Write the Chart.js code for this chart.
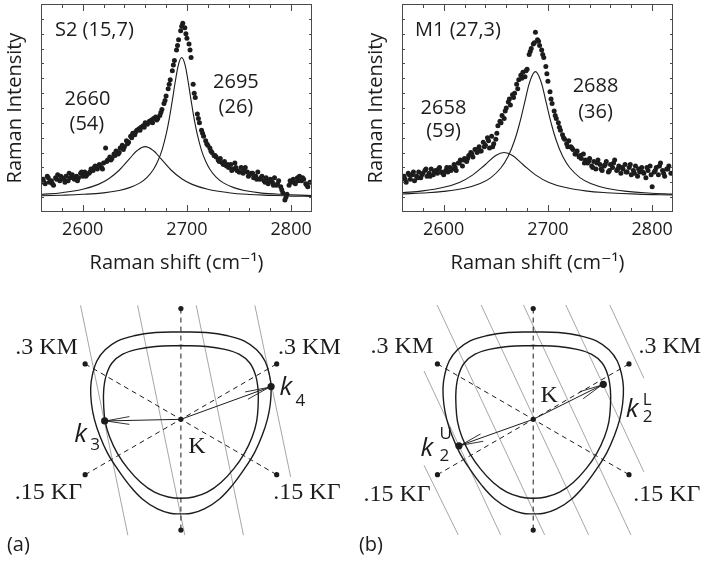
<!DOCTYPE html>
<html>
<head>
<meta charset="utf-8">
<title>Raman G' band of two tubes and the trigonal warping picture</title>
<script src="https://cdn.jsdelivr.net/npm/chart.js@4.4.1/dist/chart.umd.min.js"></script>
<style>
  html, body { margin: 0; padding: 0; background: #fff; }
  #page { position: relative; width: 706px; height: 570px; overflow: hidden; }
  canvas { position: absolute; }
</style>
</head>
<body>
<div id="page">
  <canvas id="spectrumS2" width="350" height="280" style="left:0;top:0"></canvas>
  <canvas id="spectrumM1" width="345" height="280" style="left:361px;top:0"></canvas>
  <canvas id="zoneA" width="353" height="280" style="left:0;top:290px"></canvas>
  <canvas id="zoneB" width="353" height="280" style="left:353px;top:290px"></canvas>
</div>
<script>
// ---- spectra: measured points, two interleaved shift grids shared by both tubes ----
const shiftX = [
  2562,2564,2566,2568,2570,2572,2574,2576,2578,2580,2582,2584,2586,2588,2590,2592,
  2594,2596,2598,2600,2602,2604,2606,2608,2610,2612,2614,2616,2618,2620,2622,2624,
  2626,2628,2630,2632,2634,2636,2638,2640,2642,2644,2646,2648,2650,2652,2654,2656,
  2658,2660,2662,2664,2666,2668,2670,2672,2674,2676,2678,2680,2682,2684,2686,2688,
  2690,2692,2694,2696,2698,2700,2702,2704,2706,2708,2710,2712,2714,2716,2718,2720,
  2722,2724,2726,2728,2730,2732,2734,2736,2738,2740,2742,2744,2746,2748,2750,2752,
  2754,2756,2758,2760,2762,2764,2766,2768,2770,2772,2774,2776,2778,2780,2782,2784,
  2786,2788,2790,2792,2794,2796,2798,2800,2802,2804,2806,2808,2810,2812,2814,2816,
  2818
];
const shiftXOdd = [
  2563,2567,2571,2575,2579,2583,2587,2591,2595,2599,2603,2607,2611,2615,2619,2623,
  2627,2631,2635,2639,2643,2647,2651,2655,2659,2663,2667,2671,2675,2679,2683,2687,
  2691,2695,2699,2703,2707,2711,2715,2719,2723,2727,2731,2735,2739,2743,2747,2751,
  2755,2759,2763,2767,2771,2775,2779,2783,2787,2791,2795,2799,2803,2807,2811,2815
];
const s2Counts = [
  2.2,1.9,2.4,2.0,2.1,1.8,2.3,2.5,2.1,2.3,2.2,2.4,2.1,2.3,2.5,2.2,
  2.4,2.3,2.6,2.4,2.7,2.5,2.6,2.9,2.8,3.1,2.9,3.2,3.0,3.3,4.3,3.5,
  3.7,3.6,3.9,4.1,3.9,4.3,4.5,4.4,4.8,4.7,5.1,5.3,5.2,5.5,5.6,5.7,
  5.8,6.0,5.9,6.1,6.2,6.3,6.4,6.3,6.5,6.9,7.3,7.8,8.3,8.9,9.5,10.2,
  10.9,11.6,12.2,12.7,12.4,11.7,11.3,10.4,8.6,7.7,6.6,6.0,5.5,5.1,4.8,4.5,
  4.3,4.0,3.8,3.7,3.5,3.6,3.3,3.4,3.1,3.0,3.2,2.9,3.3,2.8,2.7,3.0,
  2.6,3.0,2.7,2.5,2.6,2.3,2.4,2.7,2.2,2.4,2.1,2.3,1.9,2.2,2.0,2.3,
  1.8,2.1,1.7,1.3,0.8,1.2,1.8,2.0,2.2,1.9,2.3,2.4,2.1,2.2,1.9,1.7,
  2.0
];
const s2CountsOdd = [
  2.0,2.3,1.9,2.2,2.4,2.0,2.6,2.3,2.1,2.7,2.4,2.7,3.0,3.1,2.9,3.4,
  3.5,3.8,4.0,4.2,4.6,5.0,5.4,5.5,5.7,6.0,6.0,6.2,6.7,7.5,8.6,9.9,
  11.2,12.5,12.0,10.9,8.0,6.3,5.3,4.6,4.1,3.8,3.4,3.2,3.2,2.8,3.0,2.7,
  2.8,2.4,2.6,2.2,2.3,2.0,2.1,1.8,1.9,1.5,1.0,2.1,2.0,2.1,2.3,1.8
];
const m1Counts = [
  2.4,2.0,2.6,2.2,2.5,2.1,2.4,2.7,2.3,2.6,2.8,2.4,2.6,2.9,2.5,2.8,
  2.6,3.0,2.7,2.5,2.8,2.7,3.0,2.9,3.2,2.8,3.3,3.5,3.1,3.6,3.4,3.8,
  4.0,3.7,4.2,4.0,4.4,4.1,4.7,4.5,5.0,4.3,5.1,4.6,4.9,5.8,6.1,6.5,
  6.3,7.0,7.4,7.2,7.9,8.0,8.6,8.9,9.2,9.4,9.1,9.6,10.6,11.0,11.3,12.1,
  11.6,11.2,10.9,10.4,9.8,8.8,8.1,7.3,6.8,6.3,6.0,5.5,5.2,4.9,4.6,4.8,
  4.4,4.2,3.9,4.1,3.7,3.6,3.9,3.5,3.3,3.6,3.1,3.4,2.9,3.5,3.2,2.8,
  3.1,3.4,2.7,3.2,3.0,3.5,2.8,3.1,2.6,2.9,3.2,2.7,3.0,2.5,2.8,3.1,
  2.4,2.7,3.0,2.6,2.3,2.8,3.1,1.7,2.7,3.0,2.5,3.3,2.8,2.4,2.9,3.1,
  2.6
];
const m1CountsOdd = [
  2.2,2.5,2.7,2.3,2.5,2.9,2.4,2.7,2.9,2.6,3.0,2.8,3.0,3.3,3.5,3.6,
  3.9,4.2,4.1,4.4,4.8,4.4,5.3,6.0,6.8,7.6,7.7,8.3,9.0,9.5,10.8,11.4,
  11.5,10.6,9.3,7.6,6.5,5.7,5.0,4.4,4.3,3.9,3.8,3.3,3.4,3.0,3.3,2.9,
  3.2,2.8,3.3,2.9,3.0,2.7,3.2,2.6,2.9,2.7,3.0,2.5,2.8,3.1,2.6,2.9
];

// fitted Lorentzian components
const s2NarrowX = [2560,2580,2600,2620,2635,2645,2655,2662,2668,2672,2676,2680,2683,2686,2689,2692,2695,2698,2701,2704,2707,2710,2714,2718,2722,2728,2735,2745,2755,2770,2790,2820];
const s2NarrowY = [1.09,1.13,1.19,1.29,1.45,1.64,1.96,2.35,2.88,3.41,4.15,5.21,6.25,7.51,8.85,9.96,10.4,9.96,8.85,7.51,6.25,5.21,4.15,3.41,2.88,2.35,1.96,1.64,1.45,1.29,1.19,1.11];
const s2BroadX = [2560,2580,2600,2615,2625,2635,2645,2652,2660,2668,2675,2685,2695,2705,2720,2740,2760,2780,2800,2820];
const s2BroadY = [1.18,1.30,1.53,1.86,2.24,2.81,3.59,4.12,4.40,4.12,3.59,2.81,2.24,1.86,1.53,1.30,1.18,1.12,1.07,1.05];
const m1NarrowX = [2560,2580,2600,2620,2635,2645,2655,2662,2668,2673,2678,2683,2688,2693,2698,2703,2708,2714,2721,2731,2741,2756,2776,2796,2820];
const m1NarrowY = [1.21,1.28,1.39,1.60,1.92,2.30,2.98,3.77,4.81,6.01,7.47,8.85,9.45,8.85,7.47,6.01,4.81,3.77,2.98,2.30,1.92,1.60,1.39,1.28,1.20];
const m1BroadX = [2560,2580,2600,2615,2628,2640,2650,2658,2666,2676,2688,2701,2716,2736,2756,2786,2820];
const m1BroadY = [1.30,1.42,1.66,1.99,2.50,3.20,3.80,4.00,3.80,3.20,2.50,1.99,1.66,1.42,1.30,1.20,1.15];

// ---- zone pictures: units are screen pixels, origin at K, y up ----
const outerContour = [[0,90],[26,89.3],[48,86],[65,80.5],[77.5,71.5],[86,60],[90.5,46],[92.3,32.7],[91.5,16],[88.5,0],[83,-17],[75.5,-34],[65,-51],[53,-67.5],[39.5,-82],[24,-92.3],[11,-96.7],[0,-97.3],
  [-11,-96.7],[-24,-92.3],[-39.5,-82],[-53,-67.5],[-65,-51],[-75.5,-34],[-83,-17],[-88.5,0],[-91.5,16],[-92.3,32.7],[-90.5,46],[-86,60],[-77.5,71.5],[-65,80.5],[-48,86],[-26,89.3],[0,90]];
const innerContour = [[0,76],[26,75],[45,72],[59.5,67],[70.5,58],[76.5,45],[79,30],[79,14],[77.5,-2],[73,-18],[65,-35],[54,-51],[41,-65],[27,-75],[13,-80],[0,-81.3],
  [-13,-80],[-27,-75],[-41,-65],[-54,-51],[-65,-35],[-73,-18],[-77.5,-2],[-79,14],[-79,30],[-76.5,45],[-70.5,58],[-59.5,67],[-45,72],[-26,75],[0,76]];
const symmetryAxes = [[[0,114],[0,-114]], [[-98,57],[98,-57]], [[-98,-57],[98,57]]];

const cutLinesA = [[[-102.7,117.3],[-54.3,-119.3]], [[-44.3,117.3],[4,-119.3]], [[15.7,117.3],[64,-119.3]], [[75.7,117.3],[112.3,-59.3]]];
const cutLinesB = [[[-111.7,49.7],[-33.3,-119]], [[-111.7,-47.3],[-76.7,-119]], [[-98.3,117.7],[11.7,-119]], [[-53.3,117.7],[56.7,-119]],
  [[-10,117.7],[100,-119]], [[33.3,117.7],[113.3,-54.3]], [[78.3,117.7],[113.3,42.3]]];
const kPointsA = [[-78,-1.7], [92.3,33.7]];
const kPointsB = [[71.7,36], [-76,-27.3]];
const arrowHeadsA = [[[-52.7,2.8],[-77,-1.7],[-52.7,-5.2]], [[65.8,28.2],[90.5,33],[68.6,20.7]]];
const arrowHeadsB = [[[47.5,28.4],[70,35.2],[51.1,21.2]], [[-51.1,-22.6],[-74.5,-26.8],[-53.9,-15.1]]];

const ink = '#1c1c1c';
const sans = "'Open Sans', 'DejaVu Sans', sans-serif";
const serif = "'Liberation Serif', 'DejaVu Serif', serif";

const pairs = (xs, ys) => xs.map((x, i) => ({ x: x, y: ys[i] }));
const points = list => list.map(p => ({ x: p[0], y: p[1] }));

// box with inward ticks and the hundreds labels, like the original plots
const frameTicks = {
  id: 'frameTicks',
  afterDraw(chart) {
    const { ctx, chartArea: a, scales: { x, y } } = chart;
    ctx.save();
    ctx.strokeStyle = '#4a4a4a';
    ctx.lineWidth = 1;
    ctx.strokeRect(a.left + 0.5, a.top + 0.5, a.right - a.left - 1, a.bottom - a.top - 1);
    ctx.beginPath();
    x.ticks.forEach(t => {
      if (t.value <= x.min || t.value >= x.max) return;
      const px = Math.round(x.getPixelForValue(t.value)) + 0.5;
      const len = t.value % 100 === 0 ? 7 : 4;
      ctx.moveTo(px, a.top); ctx.lineTo(px, a.top + len);
      ctx.moveTo(px, a.bottom); ctx.lineTo(px, a.bottom - len);
    });
    y.ticks.forEach(t => {
      if (t.value <= y.min || t.value >= y.max) return;
      const py = Math.round(y.getPixelForValue(t.value)) + 0.5;
      ctx.moveTo(a.left, py); ctx.lineTo(a.left + 3, py);
      ctx.moveTo(a.right, py); ctx.lineTo(a.right - 3, py);
    });
    ctx.stroke();

    ctx.fillStyle = ink;
    ctx.font = '18px ' + sans;
    ctx.textAlign = 'center';
    ctx.textBaseline = 'middle';
    x.ticks.forEach(t => {
      if (t.value % 100 !== 0) return;
      ctx.fillText(String(t.value), x.getPixelForValue(t.value), a.bottom + 18);
    });
    ctx.restore();
  }
};

function drawSpectrum(canvasId, counts, countsOdd, narrowX, narrowY, broadX, broadY, notes, padRight) {
  const textNotes = {
    id: 'textNotes',
    afterDatasetsDraw(chart) {
      const { ctx, scales: { x, y } } = chart;
      ctx.save();
      ctx.fillStyle = ink;
      ctx.font = '20px ' + sans;
      ctx.textBaseline = 'middle';
      notes.forEach(n => {
        ctx.textAlign = n.align || 'center';
        ctx.fillText(n.text, x.getPixelForValue(n.x), y.getPixelForValue(n.y));
      });
      ctx.restore();
    }
  };
  const curve = (xs, ys) => ({ data: pairs(xs, ys), showLine: true, pointRadius: 0, borderColor: ink, borderWidth: 1.1, tension: 0.4 });
  const dots = pairs(shiftX, counts).concat(pairs(shiftXOdd, countsOdd));

  new Chart(document.getElementById(canvasId), {
    type: 'scatter',
    data: {
      datasets: [
        { data: dots, pointRadius: 2.5, pointBackgroundColor: ink, pointBorderWidth: 0 },
        curve(narrowX, narrowY),
        curve(broadX, broadY)
      ]
    },
    options: {
      responsive: false,
      animation: false,
      events: [],
      layout: { padding: { top: 4, right: padRight, left: 0, bottom: 0 } },
      plugins: { legend: { display: false }, tooltip: { enabled: false } },
      scales: {
        x: {
          type: 'linear', min: 2560, max: 2820,
          grid: { display: false, drawTicks: false }, border: { display: false },
          ticks: { display: false, stepSize: 20 },
          title: { display: true, text: 'Raman shift (cm⁻¹)', color: ink, font: { family: sans, size: 20 }, padding: { top: 0, bottom: 5 } },
          afterFit: s => { s.height = 68; }
        },
        y: {
          min: 0, max: 14,
          grid: { display: false, drawTicks: false }, border: { display: false },
          ticks: { display: false, stepSize: 1 },
          title: { display: true, text: 'Raman Intensity', color: ink, font: { family: sans, size: 20 }, padding: { top: 3, bottom: 0 } },
          afterFit: s => { s.width = 41; }
        }
      }
    },
    plugins: [frameTicks, textNotes]
  });
}

function drawZone(canvasId, xMin, xMax, cutLines, kPoints, arrowHeads, marks, kLabels, tag) {
  const zoneText = {
    id: 'zoneText',
    afterDatasetsDraw(chart) {
      const { ctx, scales: { x, y } } = chart;
      const px = v => x.getPixelForValue(v);
      const py = v => y.getPixelForValue(v);
      ctx.save();
      ctx.fillStyle = ink;
      ctx.textAlign = 'center';
      ctx.textBaseline = 'middle';
      ctx.font = '24px ' + serif;
      marks.forEach(m => ctx.fillText(m.text, px(m.x), py(m.y)));

      ctx.textAlign = 'left';
      ctx.textBaseline = 'alphabetic';
      kLabels.forEach(k => {
        const bx = px(k.x), by = py(k.y);
        ctx.font = 'italic 26px ' + sans;
        ctx.fillText('k', bx, by);
        ctx.font = '17px ' + sans;
        if (k.sub) ctx.fillText(k.sub, bx + k.dx, by + k.drop);
        if (k.sup) ctx.fillText(k.sup, bx + k.dx, by - k.rise);
      });

      ctx.font = '20px ' + sans;
      ctx.textBaseline = 'middle';
      ctx.fillText(tag.text, px(tag.x), py(tag.y));
      ctx.restore();
    }
  };

  const line = (list, extra) => Object.assign(
    { data: points(list), showLine: true, pointRadius: 0, borderColor: ink, borderWidth: 1, tension: 0 }, extra);

  const endDots = symmetryAxes.flat().concat([[0, 0]]);
  const datasets = [
    { data: points(kPoints), pointRadius: 3.6, pointBackgroundColor: ink, pointBorderWidth: 0 },
    { data: points(endDots), pointRadius: 2.6, pointBackgroundColor: ink, pointBorderWidth: 0 }
  ];
  kPoints.forEach(k => datasets.push(line([[0, 0], k], {})));
  arrowHeads.forEach(h => datasets.push(line(h, { borderWidth: 0.9 })));
  datasets.push(line(outerContour, { borderWidth: 1.4, tension: 0.4 }));
  datasets.push(line(innerContour, { borderWidth: 1.4, tension: 0.4 }));
  symmetryAxes.forEach(s => datasets.push(line(s, { borderDash: [5, 4] })));
  cutLines.forEach(c => datasets.push(line(c, { borderColor: '#9c9c9c', borderWidth: 0.9 })));

  new Chart(document.getElementById(canvasId), {
    type: 'scatter',
    data: { datasets: datasets },
    options: {
      responsive: false,
      animation: false,
      events: [],
      layout: { padding: 0 },
      plugins: { legend: { display: false }, tooltip: { enabled: false } },
      scales: {
        x: { type: 'linear', min: xMin, max: xMax, display: false },
        y: { min: -151, max: 129, display: false }
      }
    },
    plugins: [zoneText]
  });
}

drawSpectrum('spectrumS2', s2Counts, s2CountsOdd, s2NarrowX, s2NarrowY, s2BroadX, s2BroadY, [
  { text: 'S2 (15,7)', x: 2573.4, y: 12.25, align: 'left' },
  { text: '2660', x: 2604.6, y: 7.56 },
  { text: '(54)', x: 2604.0, y: 5.87 },
  { text: '2695', x: 2747.0, y: 8.75 },
  { text: '(26)', x: 2747.0, y: 7.06 }
], 38);

drawSpectrum('spectrumM1', m1Counts, m1CountsOdd, m1NarrowX, m1NarrowY, m1BroadX, m1BroadY, [
  { text: 'M1 (27,3)', x: 2572.5, y: 12.2, align: 'left' },
  { text: '2658', x: 2599.8, y: 6.97 },
  { text: '(59)', x: 2599.8, y: 5.42 },
  { text: '2688', x: 2745.7, y: 8.48 },
  { text: '(36)', x: 2745.7, y: 6.73 }
], 33);

drawZone('zoneA', -181, 172, cutLinesA, kPointsA, arrowHeadsA, [
  { text: '.3 KM', x: -137.5, y: 74 },
  { text: '.3 KM', x: 131.5, y: 74 },
  { text: '.15 KΓ', x: -135.5, y: -76 },
  { text: '.15 KΓ', x: 129, y: -76 },
  { text: 'K', x: 16.5, y: -28 }
], [
  { x: -109, y: -23, sub: '3', dx: 16, drop: 8 },
  { x: 101, y: 25, sub: '4', dx: 16, drop: 11 }
], { text: '(a)', x: -178, y: -130 });

drawZone('zoneB', -180.3, 172.7, cutLinesB, kPointsB, arrowHeadsB, [
  { text: '.3 KM', x: -134.3, y: 74.3 },
  { text: '.3 KM', x: 139.7, y: 74.3 },
  { text: '.15 KΓ', x: -139.3, y: -77.7 },
  { text: '.15 KΓ', x: 136.7, y: -77.7 },
  { text: 'K', x: 16.2, y: 24.3 }
], [
  { x: 94.7, y: 2.3, sub: '2', sup: 'L', dx: 17, drop: 5, rise: 12 },
  { x: -115.3, y: -37.7, sub: '2', sup: 'U', dx: 19, drop: 5, rise: 17 }
], { text: '(b)', x: -178.3, y: -130 });
</script>
</body>
</html>
